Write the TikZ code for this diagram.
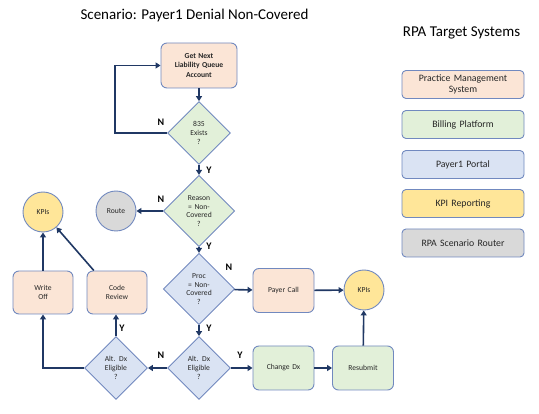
\documentclass[tikz,border=0pt]{standalone}
\usepackage{fontspec}
\setmainfont{Carlito}
\usetikzlibrary{shapes.geometric,arrows.meta,calc}
\definecolor{cOrange}{HTML}{FBE5D6}
\definecolor{cGreen}{HTML}{E2F0D9}
\definecolor{cBlue}{HTML}{DAE3F3}
\definecolor{cYellow}{HTML}{FFE699}
\definecolor{cGray}{HTML}{D9D9D9}
\definecolor{cEdge}{HTML}{7189BF}
\definecolor{cArrow}{HTML}{203864}
\begin{document}
\begin{tikzpicture}[x=1pt,y=-1pt,
  every node/.style={font=\fontsize{7.6}{8.8}\selectfont, text=black!85},
  base/.style={draw=cEdge, line width=0.9pt, align=center, inner sep=1pt},
  boxnode/.style={base, rounded corners=6pt, minimum width=61pt, minimum height=44pt, text width=56pt},
  dia/.style={base, diamond, aspect=1, minimum width=62pt, minimum height=62pt, text width=36pt},
  circ/.style={base, circle, minimum size=40pt, fill=cYellow},
  legend/.style={base, rounded corners=4pt, minimum width=122pt, minimum height=28pt, text width=118pt, font=\fontsize{9.8}{10.8}\selectfont},
  conn/.style={draw=cArrow, line width=1.6pt, -{Triangle[width=6pt,length=5pt]}},
  lab/.style={font=\bfseries\fontsize{10}{11}\selectfont, text=black}
]
\useasboundingbox (0,0) rectangle (539,414);

\node[font=\fontsize{15}{17}\selectfont, text=black] (title) at (194.5,16) {Scenario: Payer1 Denial Non-Covered};
\node[font=\fontsize{15}{17}\selectfont, text=black] (rtitle) at (461.5,33) {RPA Target Systems};

% legend
\node[legend, fill=cOrange] (l1) at (463,84.5) {Practice Management\\System};
\node[legend, fill=cGreen] (l2) at (463,124.5) {Billing Platform};
\node[legend, fill=cBlue] (l3) at (463,164.5) {Payer1 Portal};
\node[legend, fill=cYellow] (l4) at (463,203.5) {KPI Reporting};
\node[legend, fill=cGray] (l5) at (463,243) {RPA Scenario Router};

% flow
\node[boxnode, fill=cOrange, minimum width=76pt, minimum height=45pt, text width=70pt, font=\bfseries\fontsize{7.6}{9.5}\selectfont] (gn) at (199,65.5) {Get Next\\Liability Queue\\Account};
\node[dia, fill=cGreen] (d835) at (199,133) {835\\Exists\\?};
\node[dia, fill=cGreen] (reason) at (199,211) {Reason\\= Non-\\Covered\\?};
\node[circ, fill=cGray] (route) at (116,211) {Route};
\node[circ] (kpiL) at (43,212) {KPIs};
\node[dia, fill=cBlue] (proc) at (199,289) {Proc\\= Non-\\Covered\\?};
\node[boxnode, fill=cOrange] (payer) at (283.5,290.5) {Payer Call};
\node[circ] (kpiR) at (364,290) {KPIs};
\node[dia, fill=cBlue] (altR) at (199,368) {Alt. Dx\\Eligible\\?};
\node[dia, fill=cBlue] (altL) at (116,368) {Alt. Dx\\Eligible\\?};
\node[boxnode, fill=cGreen] (chg) at (283.5,368) {Change Dx};
\node[boxnode, fill=cGreen] (resub) at (363,368) {Resubmit};
\node[boxnode, fill=cOrange, minimum width=60pt, minimum height=43pt] (code) at (117,292.5) {Code\\Review};
\node[boxnode, fill=cOrange, minimum width=60pt, minimum height=43pt] (wo) at (43,292.5) {Write\\Off};

\coordinate (loopA) at (115,133);
\coordinate (loopB) at (115,65.5);
\coordinate (crtop) at ($(code.north west)!0.12!(code.north east)$);
\coordinate (wocorner) at (43,368);

% connectors
\draw[conn] (gn) -- (d835);
\draw[conn] (d835.west) -- (loopA) -- (loopB) -- (gn.west);
\draw[conn] (d835) -- (reason);
\draw[conn] (reason) -- (route);
\draw[conn] (reason) -- (proc);
\draw[conn] (proc) -- (payer);
\draw[conn] (payer) -- (kpiR);
\draw[conn] (proc) -- (altR);
\draw[conn] (altR) -- (chg);
\draw[conn] (chg) -- (resub);
\draw[conn] (resub) -- (kpiR);
\draw[conn] (altR) -- (altL);
\draw[conn] (altL.north) -- (code.south -| altL.north);
\draw[conn] (altL.west) -- (wocorner) -- (wo.south);
\draw[conn] (wo) -- (kpiL);
\draw[conn] (crtop) -- (kpiL);

% labels
\node[lab] (n1) at (161,122) {N};
\node[lab] (y1) at (209,170) {Y};
\node[lab] (n2) at (161,199) {N};
\node[lab] (y2) at (209,246) {Y};
\node[lab] (n3) at (229,267) {N};
\node[lab] (y3) at (209,328) {Y};
\node[lab] (y4) at (122,328) {Y};
\node[lab] (n4) at (161,355) {N};
\node[lab] (y5) at (240,355) {Y};
\end{tikzpicture}
\end{document}
